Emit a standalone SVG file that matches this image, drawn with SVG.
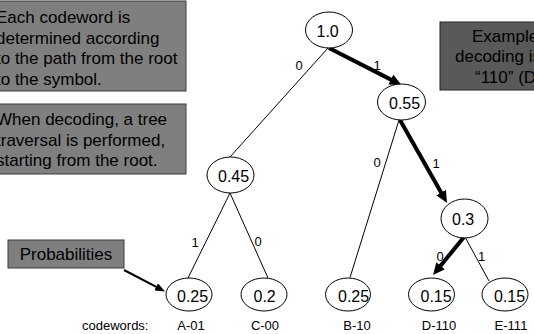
<svg xmlns="http://www.w3.org/2000/svg" width="534" height="334" viewBox="0 0 534 334">
  <style>
    text { font-family: "Liberation Sans", Arial, sans-serif; fill: #000; }
    .note { fill: #7f7f7f; stroke: #3a3a3a; stroke-width: 1; }
    .note-dark { fill: #595959; stroke: #222; stroke-width: 1; }
    .note-text { font-size: 17px; }
    .node { fill: #fff; stroke: #000; stroke-width: 1; }
    .prob { font-size: 16px; }
    .edge { stroke: #000; stroke-width: 1; fill: none; }
    .path-edge { stroke: #000; stroke-width: 4; fill: none; marker-end: url(#head-bold); }
    .pointer { stroke: #000; stroke-width: 2; fill: none; marker-end: url(#head-small); }
    .bit { font-size: 13px; text-anchor: middle; }
    .code { font-size: 13px; text-anchor: middle; }
    .code-caption { font-size: 13px; text-anchor: start; }
  </style>
  <defs>
    <marker id="head-bold" viewBox="0 0 12 11" refX="4" refY="5.5" markerWidth="12" markerHeight="11" markerUnits="userSpaceOnUse" orient="auto">
      <path d="M0,0 L12,5.5 L0,11 z" fill="#000"/>
    </marker>
    <marker id="head-small" viewBox="0 0 10 8" refX="4" refY="4" markerWidth="10" markerHeight="8" markerUnits="userSpaceOnUse" orient="auto">
      <path d="M0,0 L10,4 L0,8 z" fill="#000"/>
    </marker>
  </defs>

  <!-- explanatory notes -->
  <g id="note-codeword">
    <rect class="note" x="-10" y="1" width="196" height="90"/>
    <text class="note-text" x="-4" y="23">Each codeword is</text>
    <text class="note-text" x="-4" y="43.5">determined according</text>
    <text class="note-text" x="-4" y="64">to the path from the root</text>
    <text class="note-text" x="-4" y="84.5">to the symbol.</text>
  </g>
  <g id="note-decoding">
    <rect class="note" x="-10" y="104" width="196" height="70"/>
    <text class="note-text" x="-4" y="125">When decoding, a tree</text>
    <text class="note-text" x="-4" y="145.5">traversal is performed,</text>
    <text class="note-text" x="-4" y="166">starting from the root.</text>
  </g>
  <g id="note-example">
    <rect class="note-dark" x="440" y="22" width="110" height="68"/>
    <text class="note-text" x="472" y="41.5">Example of</text>
    <text class="note-text" x="455" y="62">decoding is</text>
    <text class="note-text" x="475" y="82.5">“110” (D)</text>
  </g>
  <g id="note-probabilities">
    <rect class="note" x="8" y="240" width="116" height="28"/>
    <text class="note-text" x="66" y="260" text-anchor="middle">Probabilities</text>
  </g>

  <!-- connectors -->
  <g id="connectors">
    <line class="edge" x1="328" y1="48" x2="230" y2="157"/>
    <line class="edge" x1="399" y1="120" x2="350" y2="277.5"/>
    <line class="edge" x1="230" y1="193" x2="188" y2="278"/>
    <line class="edge" x1="230" y1="193" x2="268" y2="278"/>
    <line class="edge" x1="465" y1="237" x2="489" y2="281"/>
    <line class="path-edge" x1="329" y1="48" x2="394.4" y2="81.4"/>
    <line class="path-edge" x1="400" y1="120" x2="443.1" y2="196"/>
    <line class="path-edge" x1="464" y1="237" x2="438.1" y2="268.8"/>
    <line class="pointer" x1="124" y1="270" x2="159.7" y2="288.7"/>
    <text class="bit" x="299" y="70">0</text>
    <text class="bit" x="377" y="70">1</text>
    <text class="bit" x="377" y="167">0</text>
    <text class="bit" x="436" y="168">1</text>
    <text class="bit" x="195" y="247">1</text>
    <text class="bit" x="258" y="246">0</text>
    <text class="bit" x="440" y="261">0</text>
    <text class="bit" x="481.5" y="261">1</text>
  </g>

  <!-- tree nodes -->
  <g id="node-root">
    <ellipse class="node" cx="329" cy="30" rx="23.5" ry="18"/>
    <text class="prob" x="316.5" y="36.5">1.0</text>
  </g>
  <g id="node-055">
    <ellipse class="node" cx="401.5" cy="102" rx="24" ry="18"/>
    <text class="prob" x="389" y="108.5">0.55</text>
  </g>
  <g id="node-045">
    <ellipse class="node" cx="230.5" cy="175" rx="23.5" ry="18"/>
    <text class="prob" x="218" y="181.5">0.45</text>
  </g>
  <g id="node-03">
    <ellipse class="node" cx="464.5" cy="218.5" rx="23.5" ry="19.5"/>
    <text class="prob" x="452" y="225">0.3</text>
  </g>
  <g id="leaf-a">
    <ellipse class="node" cx="189" cy="294.5" rx="23" ry="16.5"/>
    <text class="prob" x="177" y="302">0.25</text>
  </g>
  <g id="leaf-c">
    <ellipse class="node" cx="264" cy="294.5" rx="23" ry="16.5"/>
    <text class="prob" x="253.5" y="302">0.2</text>
  </g>
  <g id="leaf-b">
    <ellipse class="node" cx="348" cy="294.5" rx="22.5" ry="16.5"/>
    <text class="prob" x="338" y="302">0.25</text>
  </g>
  <g id="leaf-d">
    <ellipse class="node" cx="431.5" cy="294.5" rx="23" ry="16.5"/>
    <text class="prob" x="420.5" y="302">0.15</text>
  </g>
  <g id="leaf-e">
    <ellipse class="node" cx="505" cy="294.5" rx="23" ry="16.5"/>
    <text class="prob" x="494" y="302">0.15</text>
  </g>

  <!-- codeword row -->
  <g id="codewords">
    <text class="code-caption" x="82" y="330">codewords:</text>
    <text class="code" x="191" y="330">A-01</text>
    <text class="code" x="265" y="330">C-00</text>
    <text class="code" x="357" y="330">B-10</text>
    <text class="code" x="439" y="330">D-110</text>
    <text class="code" x="511" y="330">E-111</text>
  </g>
</svg>
